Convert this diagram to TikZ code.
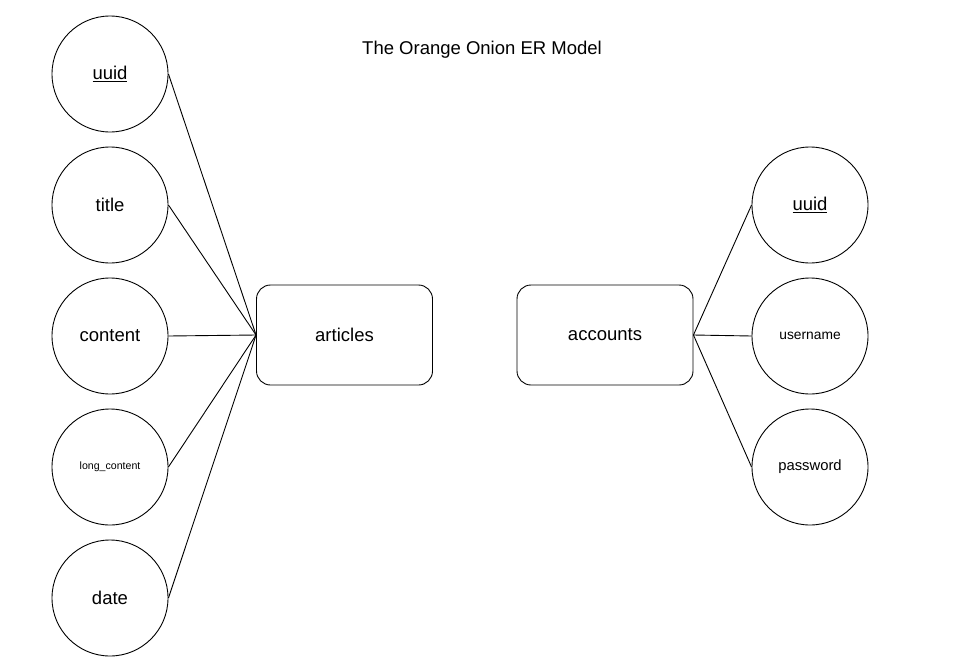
\documentclass[tikz,border=0pt]{standalone}
\usepackage{fontspec}
\setmainfont{Liberation Sans}
\begin{document}
\begin{tikzpicture}[x=1pt,y=-1pt,
  attr/.style={draw,circle,minimum size=116pt,inner sep=0pt,line width=0.9pt,font=\fontsize{18.5}{22}\selectfont},
  ent/.style={draw,rounded corners=14pt,minimum width=176pt,minimum height=100pt,line width=0.9pt,font=\fontsize{18.5}{22}\selectfont},
  conn/.style={line width=0.9pt}]
\useasboundingbox (0,0) rectangle (953,667);
\node[font=\fontsize{18.5}{22}\selectfont] (title) at (482,50) {The Orange Onion ER Model};
\node[attr] (a1) at (110,74) {\underline{uuid}};
\node[attr] (a2) at (110,205) {title};
\node[attr] (a3) at (110,336) {content};
\node[attr,font=\fontsize{10.6}{13}\selectfont] (a4) at (110,467) {long\_content};
\node[attr] (a5) at (110,598) {date};
\node[ent] (art) at (344.5,335) {articles};
\node[ent] (acc) at (605,335) {accounts};
\node[attr] (b1) at (810,205) {\underline{uuid}};
\node[attr,font=\fontsize{13.8}{16}\selectfont] (b2) at (810,336) {username};
\node[attr,font=\fontsize{14.8}{17}\selectfont] (b3) at (810,467) {password};
\foreach \n in {a1,a2,a3,a4,a5} \draw[conn] (\n.east) -- (art.west);
\foreach \n in {b1,b2,b3} \draw[conn] (acc.east) -- (\n.west);
\end{tikzpicture}
\end{document}
